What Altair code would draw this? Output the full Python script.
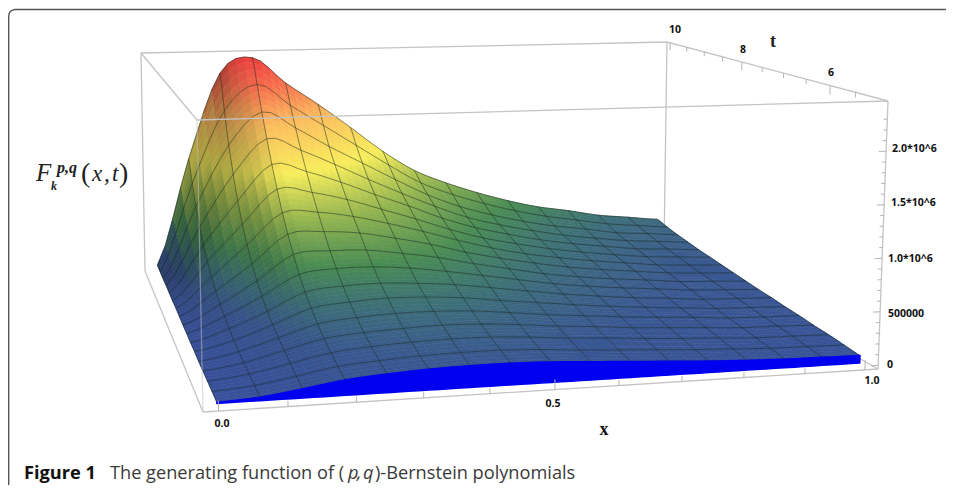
import altair as alt
import numpy as np

# Surface heights in units of 10^6. One list per x mesh line,
# each running from t = 5 (front) to t = 10 (back) over 16 mesh cells.
z_x00 = [.01,.01,.01,.01,.01,.015,.015,.02,.02,.025,.03,.03,.035,.04,.04,.045,.05]
z_x01 = [.03,.04,.05,.065,.08,.10,.13,.17,.21,.27,.34,.43,.54,.67,.83,1.03,1.25]
z_x02 = [.08,.10,.125,.155,.19,.23,.28,.35,.43,.53,.66,.81,1.0,1.23,1.5,1.84,2.23]
z_x03 = [.135,.165,.20,.245,.30,.37,.45,.55,.68,.82,.98,1.17,1.38,1.61,1.86,2.13,2.40]
z_x04 = [.165,.195,.235,.28,.34,.41,.49,.59,.70,.83,.97,1.12,1.29,1.47,1.67,1.88,2.10]
z_x05 = [.185,.215,.255,.30,.36,.43,.50,.59,.69,.80,.91,1.03,1.16,1.30,1.45,1.64,1.84]
z_x06 = [.195,.225,.265,.31,.36,.42,.48,.56,.64,.73,.82,.91,1.01,1.12,1.25,1.40,1.56]
z_x07 = [.195,.225,.26,.30,.345,.395,.45,.51,.58,.65,.72,.79,.87,.95,1.05,1.16,1.27]
z_x08 = [.185,.21,.24,.275,.31,.35,.40,.45,.50,.55,.61,.66,.72,.79,.86,.94,1.03]
z_x09 = [.165,.185,.21,.24,.27,.31,.35,.39,.43,.47,.51,.55,.60,.65,.71,.79,.87]
z_x10 = [.145,.165,.19,.215,.24,.27,.30,.33,.36,.40,.43,.47,.51,.55,.60,.67,.74]
z_x11 = [.125,.145,.165,.185,.21,.235,.26,.285,.31,.34,.37,.40,.43,.47,.51,.57,.63]
z_x12 = [.105,.125,.145,.165,.185,.205,.225,.25,.27,.295,.32,.345,.37,.40,.44,.49,.54]
z_x13 = [.09,.11,.13,.145,.165,.18,.20,.22,.24,.26,.28,.30,.325,.35,.39,.43,.48]
z_x14 = [.08,.095,.11,.125,.14,.155,.17,.19,.205,.225,.24,.26,.28,.305,.33,.37,.41]
z_x15 = [.075,.09,.105,.12,.13,.145,.16,.175,.19,.205,.22,.24,.26,.28,.305,.335,.37]
z_x16 = [.07,.085,.10,.11,.125,.135,.15,.16,.175,.19,.205,.22,.235,.255,.275,.30,.33]
Z = np.array([z_x00,z_x01,z_x02,z_x03,z_x04,z_x05,z_x06,z_x07,z_x08,z_x09,z_x10,
              z_x11,z_x12,z_x13,z_x14,z_x15,z_x16])

x_ticks = [0,.1,.2,.3,.4,.5,.6,.7,.8,.9,1.0]
t_ticks = [5.5,6,6.5,7,7.5,8,8.5,9,9.5,10]
t_major = [6,8,10]
z_ticks = [i/10 for i in range(0,24)]
z_major = [0,.5,1.0,1.5,2.0]

# View of the bounding box (page pixels), data limits of the box
OFF = 8
BOX = dict(x=(-0.022,1.022), t=(4.9,10.1), z=(-0.035,2.47))
BASE = [(203,412),(878,369),(664,247),(145,271)]
TOP = [(197,120),(888,101),(667,42),(141,53)]

def homography(pts):
    src = [(0,0),(1,0),(1,1),(0,1)]
    A, b = [], []
    for (u,v),(X,Y) in zip(src,pts):
        A.append([u,v,1,0,0,0,-u*X,-v*X]); b.append(X)
        A.append([0,0,0,u,v,1,-u*Y,-v*Y]); b.append(Y)
    h = np.linalg.solve(np.array(A,float),np.array(b,float))
    return np.append(h,1).reshape(3,3)
HB, HT = homography(BASE), homography(TOP)

def proj(x,t,z):
    u=(x-BOX['x'][0])/(BOX['x'][1]-BOX['x'][0])
    v=(t-BOX['t'][0])/(BOX['t'][1]-BOX['t'][0])
    w=(z-BOX['z'][0])/(BOX['z'][1]-BOX['z'][0])
    def ap(H):
        p=H@np.array([u,v,1.0]); return p[:2]/p[2]
    q=(1-w)*ap(HB)+w*ap(HT)
    return [round(float(q[0])-OFF,2),round(float(q[1])-OFF,2)]

STOPS=[(0,(56,80,155)),(.2,(58,88,146)),(.4,(62,114,118)),(.6,(74,140,84)),(.92,(150,182,80)),
       (1.28,(248,238,92)),(1.72,(252,190,95)),(2.1,(246,110,78)),(2.45,(235,55,60))]
def colour(z,slope):
    zs=[s[0] for s in STOPS]
    rgb=[np.interp(z,zs,[s[1][i] for s in STOPS]) for i in range(3)]
    k=1-0.3*min(1,max(0,slope)/9)**1.2
    return '#%02x%02x%02x'%tuple(int(c*k) for c in rgb)

def line(coords,**props):
    return {"type":"Feature","properties":props,"geometry":{"type":"LineString","coordinates":coords}}

# smooth rendering of the table (as a cardinal line would do), N samples per mesh cell
N=4
def smooth_axis(A,axis):
    A=np.moveaxis(A,axis,0)
    n=A.shape[0]-1
    out=[]
    for i in range(n):
        p0=A[max(i-1,0)];p1=A[i];p2=A[i+1];p3=A[min(i+2,n)]
        for s in range(N):
            u=s/N
            out.append(.5*(2*p1+(p2-p0)*u+(2*p0-5*p1+4*p2-p3)*u*u+(3*p1-p0-3*p2+p3)*u**3))
    out.append(A[n])
    return np.moveaxis(np.array(out),0,axis)
F=np.maximum(smooth_axis(smooth_axis(Z,0),1),0)
nf=16*N+1
xf=np.linspace(0,1,nf); tf=np.linspace(5,10,nf)
SL=np.gradient(F,xf,axis=0)

P=[[proj(xf[i],tf[j],F[i,j]) for j in range(nf)] for i in range(nf)]

cells=[]
for j in range(nf-2,-1,-1):
    for i in range(nf-1):
        ring=[P[i][j],P[i+1][j],P[i+1][j+1],P[i][j+1],P[i][j]]
        zc=(F[i,j]+F[i+1,j]+F[i,j+1]+F[i+1,j+1])/4
        cells.append({"type":"Feature","properties":{"c":colour(zc,(SL[i,j]+SL[i+1,j+1])/2)},
                      "geometry":{"type":"Polygon","coordinates":[ring]}})

mesh=[]
for i in range(0,nf,N):
    mesh.append(line([P[i][j] for j in range(nf)]))
for j in range(0,nf,N):
    mesh.append(line([P[i][j] for i in range(nf)]))

# blue front face between the t=5 edge and z=0
front=[P[i][0] for i in range(nf)]+[proj(xf[i],5,0) for i in range(nf-1,-1,-1)]
front.append(front[0])
face=[{"type":"Feature","properties":{},"geometry":{"type":"Polygon","coordinates":[front]}}]

x0,x1=BOX['x'];t0,t1=BOX['t'];z0,z1=BOX['z']
c=lambda a,b,d:proj(a,b,d)
back_edges=[line([c(x0,t1,z0),c(x0,t1,z1)]),line([c(x0,t1,z1),c(x1,t1,z1)]),
            line([c(x1,t1,z0),c(x1,t1,z1)]),line([c(x0,t1,z1),c(x0,t0,z1)]),
            line([c(x1,t1,z1),c(x1,t0,z1)]),line([c(x0,t1,z0),c(x0,t0,z0)]),
            line([c(x1,t1,z0),c(x1,t0,z0)])]
front_edges=[line([c(x0,t0,z1),c(x1,t0,z1)]),line([c(x1,t0,z0),c(x1,t0,z1)]),
             line([c(x0,t0,z0),c(x1,t0,z0)])]
side_edge=[line([c(x0,t0,z0),c(x0,t0,z1)])]

ticks=[]
for v in x_ticks:
    ticks.append(line([c(v,t0,z0),c(v,t0,z0+(.09 if v in (0,.5,1.0) else .05))]))
for v in t_ticks:
    ticks.append(line([c(x1,v,z1),c(x1,v,z1-(.09 if v in t_major else .05))]))
for v in z_ticks:
    ticks.append(line([c(x1,t0,v),c(x1-(.012 if v in z_major else .006),t0,v)]))

# page border: rounded at the top left, running off the page to the right and below
W,H=938,477
card_top=[[8.7,17],[9,14],[10,12],[12,10.3],[15,9.5],[8+W,9.5]]
card_left=[[8.7,17],[8.7,8+H]]
card=[line([[p[0]-OFF,p[1]-OFF] for p in card_top]),line([[p[0]-OFF,p[1]-OFF] for p in card_left])]

PROJ=dict(type='identity',scale=1,translate=[0,0])
def geo(features,mark):
    return alt.Chart(alt.Data(values=features)).mark_geoshape(**mark).project(**PROJ)

surface=geo(cells,dict(strokeWidth=0.6)).encode(
    fill=alt.Fill('properties.c:N',scale=None),stroke=alt.Stroke('properties.c:N',scale=None))
layers=[
    geo(back_edges,dict(filled=False,stroke='#c4c4c4',strokeWidth=1.3)),
    surface,
    geo(mesh,dict(filled=False,stroke='#14241c',strokeWidth=1,strokeOpacity=.5)),
    geo(face,dict(fill='#0000f0',stroke='#0000f0',strokeWidth=1.5,strokeJoin='round')),
    geo(side_edge,dict(filled=False,stroke='#c4c4c4',strokeWidth=1.3,strokeOpacity=.5)),
    geo(front_edges,dict(filled=False,stroke='#c4c4c4',strokeWidth=1.3)),
    geo(ticks,dict(filled=False,stroke='#b4b4b4',strokeWidth=1)),
    geo(card,dict(filled=False,stroke='#555555',strokeWidth=1.4)),
]

sx=alt.Scale(domain=[0,W],range=[0,W]); sy=alt.Scale(domain=[0,H],range=[0,H])
def text(label,px,py,**kw):
    d=[{"px":px-OFF,"py":py-OFF,"s":label}]
    return alt.Chart(alt.Data(values=d)).mark_text(**kw).encode(
        x=alt.X('px:Q',scale=sx,axis=None),y=alt.Y('py:Q',scale=sy,axis=None),text='s:N')

TICK=dict(font='Open Sans',fontSize=10.5,fontWeight='bold',color='#111111',baseline='middle')
SER=dict(font='Liberation Serif',fontStyle='italic',color='#222222',baseline='alphabetic',align='left')
PAREN=dict(font='Liberation Serif',fontSize=28,color='#222222',baseline='alphabetic',align='left')
CAP=dict(font='Open Sans',fontSize=18.2,color='#3a3a3a',baseline='alphabetic',align='left')
layers+=[
    text('10',675,30,align='center',**TICK),text('8',743,50,align='center',**TICK),
    text('6',831,73,align='center',**TICK),
    text('0.0',222,424,align='center',**TICK),text('0.5',553,404,align='center',**TICK),
    text('1.0',872,381,align='center',**TICK),
    text('2.0*10^6',892,149,align='left',**TICK),text('1.5*10^6',891,203,align='left',**TICK),
    text('1.0*10^6',888,259,align='left',**TICK),text('500000',888,314,align='left',**TICK),
    text('0',887,365,align='left',**TICK),
    text('t',773,42,font='Liberation Serif',fontSize=18,fontWeight='bold',color='#222222',align='center'),
    text('x',604,430,font='Liberation Serif',fontSize=18,fontWeight='bold',color='#111111',align='center'),
    text('F',36,181,fontSize=25,**SER),
    text('p,q',57,173,fontSize=16,fontWeight='bold',**SER),
    text('k',51,190,fontSize=12,fontWeight='bold',**SER),
    text('(',81,182,**PAREN),
    text('x',92,181,fontSize=23,**SER),
    text(',',104,181,fontSize=23,**SER),
    text('t',112,181,fontSize=23,**SER),
    text(')',119,182,**PAREN),
    text('Figure 1',24,479,font='Open Sans',fontSize=18.2,fontWeight='bold',color='#111111',baseline='alphabetic',align='left'),
    text('The generating function of (',110,479,**CAP),
    text('p',348,479,fontStyle='italic',**CAP),
    text(',',357,479,fontStyle='italic',**CAP),
    text('q',363,479,fontStyle='italic',**CAP),
    text(')-Bernstein polynomials',375,479,**CAP),
]

chart=alt.layer(*layers).properties(width=W,height=H,padding=0,background='white'
    ).configure_view(stroke=None)
chart.save("out.html",embed_options={"renderer":"svg","actions":False})
